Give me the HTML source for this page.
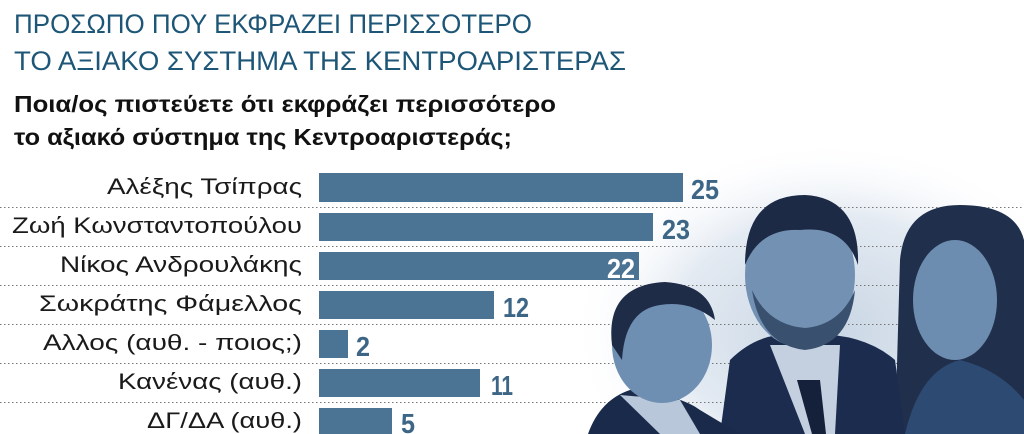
<!DOCTYPE html>
<html><head><meta charset="utf-8"><style>html,body{margin:0;padding:0;background:#fff;overflow:hidden;width:1024px;height:434px}svg{display:block}</style></head>
<body>
<svg width="1024" height="434" viewBox="0 0 1024 434" xmlns="http://www.w3.org/2000/svg">
<defs>
<radialGradient id="glow" cx="0.5" cy="0.5" r="0.5">
<stop offset="0" stop-color="#c9d6e4"/><stop offset="0.6" stop-color="#e3eaf2"/><stop offset="1" stop-color="#fff" stop-opacity="0"/>
</radialGradient>
</defs>
<rect width="1024" height="434" fill="#fff"/>
<ellipse cx="830" cy="330" rx="260" ry="190" fill="url(#glow)"/>
<g stroke="#777" stroke-width="1" stroke-dasharray="1.5 2.5">
<line x1="0" y1="207.5" x2="1024" y2="207.5"/><line x1="0" y1="246.5" x2="1024" y2="246.5"/>
<line x1="0" y1="285.5" x2="1024" y2="285.5"/><line x1="0" y1="324.5" x2="1024" y2="324.5"/>
<line x1="0" y1="363.5" x2="1024" y2="363.5"/><line x1="0" y1="402.5" x2="1024" y2="402.5"/>
</g>
<g font-family="Liberation Sans, DejaVu Sans, sans-serif">
<text x="14" y="33" font-size="27" fill="#1d5677" textLength="518" lengthAdjust="spacingAndGlyphs">ΠΡΟΣΩΠΟ ΠΟΥ ΕΚΦΡΑΖΕΙ ΠΕΡΙΣΣΟΤΕΡΟ</text>
<text x="14" y="70" font-size="27" fill="#1d5677" textLength="612" lengthAdjust="spacingAndGlyphs">ΤΟ ΑΞΙΑΚΟ ΣΥΣΤΗΜΑ ΤΗΣ ΚΕΝΤΡΟΑΡΙΣΤΕΡΑΣ</text>
<text x="14" y="112" font-size="23" font-weight="bold" fill="#111" textLength="542" lengthAdjust="spacingAndGlyphs">Ποια/ος πιστεύετε ότι εκφράζει περισσότερο</text>
<text x="14" y="145" font-size="23" font-weight="bold" fill="#111" textLength="498" lengthAdjust="spacingAndGlyphs">το αξιακό σύστημα της Κεντροαριστεράς;</text>
<g font-size="22" fill="#1a1a1a">
<text x="107" y="194" textLength="195" lengthAdjust="spacingAndGlyphs">Αλέξης Τσίπρας</text>
<text x="12" y="233" textLength="290" lengthAdjust="spacingAndGlyphs">Ζωή Κωνσταντοπούλου</text>
<text x="60" y="272" textLength="242" lengthAdjust="spacingAndGlyphs">Νίκος Ανδρουλάκης</text>
<text x="39" y="311" textLength="263" lengthAdjust="spacingAndGlyphs">Σωκράτης Φάμελλος</text>
<text x="43" y="350" textLength="259" lengthAdjust="spacingAndGlyphs">Αλλος (αυθ. - ποιος;)</text>
<text x="118" y="389" textLength="184" lengthAdjust="spacingAndGlyphs">Κανένας (αυθ.)</text>
<text x="147" y="428" textLength="155" lengthAdjust="spacingAndGlyphs">ΔΓ/ΔΑ (αυθ.)</text>
</g>
</g>
<g fill="#4b7393">
<rect x="319" y="173" width="364" height="29"/>
<rect x="319" y="213" width="334" height="28"/>
<rect x="319" y="252" width="320" height="28"/>
<rect x="319" y="291" width="175" height="28"/>
<rect x="319" y="330" width="29" height="28"/>
<rect x="319" y="369" width="161" height="28"/>
<rect x="319" y="408" width="73" height="26"/>
</g>
<g>
<path d="M895 434 L900 260 Q905 205 960 205 Q1015 205 1024 240 L1024 434 Z" fill="#20304c"/>
<ellipse cx="955" cy="300" rx="42" ry="60" fill="#6d8db0"/>
<path d="M905 434 Q920 370 960 360 Q1000 370 1024 400 L1024 434 Z" fill="#2d4a72"/>
<path d="M720 434 L730 360 Q760 330 800 335 Q860 330 895 360 L905 434 Z" fill="#1b2c4e"/>
<path d="M770 345 L805 434 L835 434 L840 345 Z" fill="#c4d0e0"/>
<path d="M797 380 L812 434 L826 434 L820 380 Z" fill="#15213a"/>
<ellipse cx="800" cy="275" rx="55" ry="72" fill="#7391b3"/>
<path d="M745 265 Q745 195 805 195 Q860 198 858 265 Q845 225 800 230 Q760 228 745 265 Z" fill="#1c2a46"/>
<path d="M752 290 Q760 345 805 350 Q850 345 855 290 Q840 325 805 328 Q768 325 752 290 Z" fill="#3a506f"/>
<path d="M588 434 Q600 400 630 390 Q680 395 700 410 L740 434 Z" fill="#1a2a4a"/>
<path d="M620 395 L660 434 L700 434 L680 400 Z" fill="#b8c7da"/>
<ellipse cx="662" cy="345" rx="50" ry="58" fill="#6f8fb2"/>
<path d="M612 345 Q605 285 665 282 Q710 285 715 320 Q690 300 660 305 Q625 310 622 360 Z" fill="#1e2c48"/>
</g>
<g font-family="Liberation Sans Narrow, Liberation Sans, sans-serif" font-weight="bold" font-size="28" fill="#3d6686">
<text x="691" y="199" textLength="28" lengthAdjust="spacingAndGlyphs">25</text>
<text x="662" y="239" textLength="28" lengthAdjust="spacingAndGlyphs">23</text>
<text x="607" y="278" textLength="28" lengthAdjust="spacingAndGlyphs" fill="#fff">22</text>
<text x="503" y="317" textLength="26" lengthAdjust="spacingAndGlyphs">12</text>
<text x="356" y="356" textLength="14" lengthAdjust="spacingAndGlyphs">2</text>
<text x="491" y="395" textLength="22" lengthAdjust="spacingAndGlyphs">11</text>
<text x="401" y="433" textLength="14" lengthAdjust="spacingAndGlyphs">5</text>
</g>
</svg>
</body></html>
